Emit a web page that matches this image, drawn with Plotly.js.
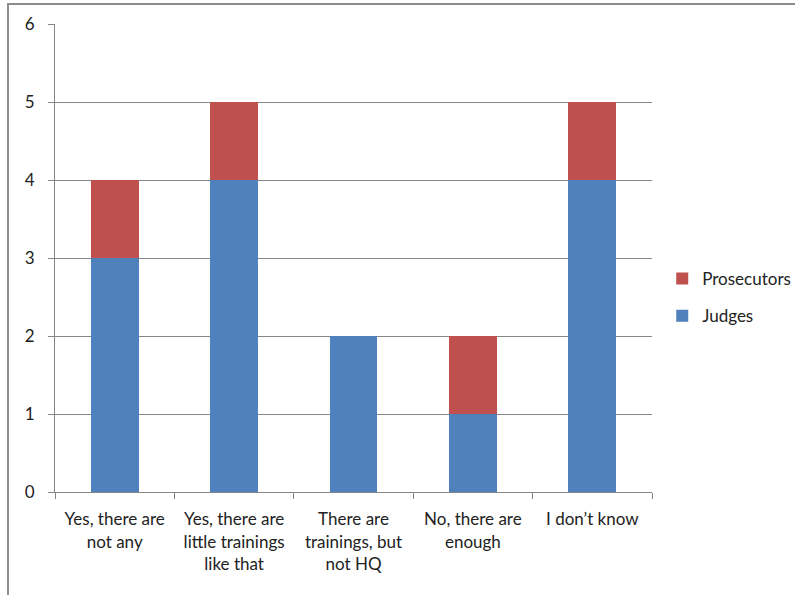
<!DOCTYPE html>
<html>
<head>
<meta charset="utf-8">
<script src="https://cdn.plot.ly/plotly-3.0.1.min.js"></script>
<style>
html,body{margin:0;padding:0;background:#fff;}
#frame{position:absolute;left:7px;top:3px;width:800px;height:600px;border-left:2px solid #8c8c8c;border-top:2px solid #8c8c8c;}
#chart{position:absolute;left:0;top:0;width:795px;height:595px;}
</style>
</head>
<body>
<div id="frame"></div>
<div id="chart"></div>
<script>
const categories = ["Yes, there are<br>not any", "Yes, there are<br>little trainings<br>like that", "There are<br>trainings, but<br>not HQ", "No, there are<br>enough", "I don’t know"];
const judges = [3, 4, 2, 1, 4];
const prosecutors = [1, 1, 0, 1, 1];
const yTicks = [0, 1, 2, 3, 4, 5, 6];

const font = {family: "Lato, 'Open Sans', sans-serif", size: 17, color: "#222"};
const traces = [
  {type: "bar", name: "Judges", x: categories, y: judges, marker: {color: "#4F81BD"}, legendgroup: "a", legendrank: 2},
  {type: "bar", name: "Prosecutors", x: categories, y: prosecutors, marker: {color: "#C0504D"}, legendgroup: "b", legendrank: 1}
];
const layout = {
  width: 795, height: 595,
  margin: {l: 55, r: 143, t: 24, b: 103},
  paper_bgcolor: "rgba(0,0,0,0)", plot_bgcolor: "rgba(0,0,0,0)",
  barmode: "stack", bargap: 0.6,
  font: font,
  showlegend: true,
  legend: {xref: "container", yref: "container", x: 0.833, y: 0.50, xanchor: "left", yanchor: "middle",
           traceorder: "grouped", tracegroupgap: 12, font: font, itemwidth: 30},
  xaxis: {type: "category", tickson: "boundaries", ticks: "outside", ticklen: 6, tickcolor: "#868686",
          showline: true, linecolor: "#868686", linewidth: 1, showgrid: false, tickfont: font, ticklabelstandoff: 12},
  yaxis: {range: [0, 6], tickvals: yTicks, ticks: "outside", ticklen: 6, tickcolor: "#868686",
          showline: true, linecolor: "#868686", gridcolor: "#868686", gridwidth: 1, zeroline: false,
          tickfont: font, ticklabelstandoff: 10}
};
Plotly.newPlot("chart", traces, layout, {displayModeBar: false});
</script>
</body>
</html>
